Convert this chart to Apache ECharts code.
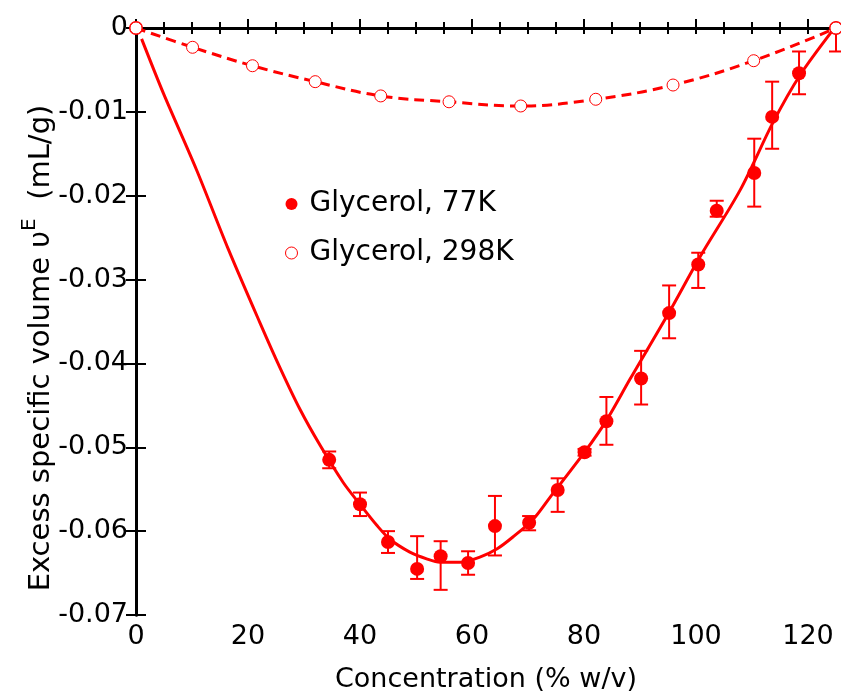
<!DOCTYPE html>
<html>
<head>
<meta charset="utf-8">
<script src="https://cdn.jsdelivr.net/npm/echarts@6/dist/echarts.min.js"></script>
<style>
html,body{margin:0;padding:0;background:#fff;}
#main{width:841px;height:698px;}
</style>
</head>
<body>
<div id="main"></div>
<script>
// 77K measurements (filled circles) with error bar ends
var x77 = [0, 34.5, 40, 45, 50.2, 54.4, 59.3, 64.1, 70.2, 75.3, 80.1, 84, 90.2, 95.2, 100.4, 103.7, 110.4, 113.6, 118.4, 125];
var y77 = [0, -0.0515, -0.0568, -0.0613, -0.0645, -0.0630, -0.0638, -0.0594, -0.0590, -0.0551, -0.0506, -0.0469, -0.0418, -0.0340, -0.0282, -0.0218, -0.0173, -0.0106, -0.0054, 0];
var errTop = [null, -0.0505, -0.0554, -0.0600, -0.0606, -0.0612, -0.0624, -0.0558, -0.0582, -0.0537, -0.0502, -0.0440, -0.0385, -0.0307, -0.0268, -0.0206, -0.0132, -0.0064, -0.0028, 0];
var errBottom = [null, -0.0525, -0.0582, -0.0626, -0.0657, -0.0670, -0.0652, -0.0629, -0.0599, -0.0577, -0.0510, -0.0497, -0.0449, -0.0370, -0.0310, -0.0225, -0.0213, -0.0144, -0.0079, -0.0028];

// fitted curve for 77K (solid line)
var fitX = [1.0, 4.9, 10.8, 16.5, 22.1, 25.7, 29.3, 32.9, 37, 40, 43, 45.4, 48.9, 51.9, 54.3, 57.9, 61.4, 64.5, 67.3, 70.9, 73.9, 80.2, 84.1, 88.2, 95.2, 100.7, 107.9, 113.8, 118.6, 124.5];
var fitY = [-0.0013, -0.0078, -0.0169, -0.0264, -0.0351, -0.0405, -0.0455, -0.0498, -0.0542, -0.0568, -0.0593, -0.0610, -0.0625, -0.0633, -0.0637, -0.0637, -0.0631, -0.0621, -0.0607, -0.0586, -0.0560, -0.0505, -0.0467, -0.0419, -0.0339, -0.0273, -0.0193, -0.0112, -0.0056, -0.0002];

// 298K measurements (open circles, dashed line)
var x298 = [0, 10.1, 20.8, 32.0, 43.7, 55.9, 68.7, 82.1, 95.9, 110.3, 125];
var y298 = [0, -0.0023, -0.0045, -0.0064, -0.0081, -0.0088, -0.0093, -0.0085, -0.0068, -0.0039, 0];

var seriesNames = ['Glycerol, 77K', 'Glycerol, 298K'];

var FONT = 'DejaVu Sans';
var RED = '#ff0000';

function pairs(xs, ys) {
	var out = [];
	for (var i = 0; i < xs.length; i++) out.push([xs[i], ys[i]]);
	return out;
}

var errData = [];
for (var i = 0; i < x77.length; i++) {
	if (errTop[i] !== null) errData.push([x77[i], errBottom[i], errTop[i]]);
}

var tickStyle = {show: true, inside: true, lineStyle: {color: '#000', width: 2}};

var option = {
	animation: false,
	grid: {left: 136, right: 5, top: 28, bottom: 82, containLabel: false},
	legend: {
		orient: 'vertical',
		left: 280,
		top: 185,
		itemWidth: 26,
		itemHeight: 12,
		itemGap: 21,
		textStyle: {fontFamily: FONT, fontSize: 28, color: '#000', lineHeight: 24},
		data: [
			{name: seriesNames[0], icon: 'circle', itemStyle: {color: RED, borderWidth: 0, opacity: 1}},
			{name: seriesNames[1], icon: 'circle', itemStyle: {color: '#fff', borderColor: RED, borderWidth: 1}}
		]
	},
	xAxis: [
		{
			type: 'value', min: 0, max: 125, interval: 20, position: 'bottom',
			name: 'Concentration (% w/v)', nameLocation: 'middle', nameGap: 51,
			nameTextStyle: {fontFamily: FONT, fontSize: 27, color: '#000'},
			axisLine: {show: true, lineStyle: {color: '#000', width: 3}},
			axisTick: Object.assign({length: 9}, tickStyle),
			axisLabel: {fontFamily: FONT, fontSize: 27, color: '#000', margin: 8, showMaxLabel: false},
			splitLine: {show: false}
		},
		{
			type: 'value', min: 0, max: 125, interval: 5, position: 'bottom',
			axisLine: {show: false},
			axisTick: Object.assign({length: 6}, tickStyle),
			axisLabel: {show: false},
			splitLine: {show: false}
		},
		{
			type: 'value', min: 0, max: 125, interval: 5, position: 'top',
			axisLine: {show: true, lineStyle: {color: '#000', width: 3}},
			axisTick: Object.assign({length: 6}, tickStyle),
			axisLabel: {show: false},
			splitLine: {show: false}
		}
	],
	yAxis: [
		{
			type: 'value', min: -0.07, max: 0, interval: 0.01, position: 'left',
			axisLine: {show: true, lineStyle: {color: '#000', width: 3}},
			axisTick: Object.assign({length: 10}, tickStyle),
			axisLabel: {
				fontFamily: FONT, fontSize: 27, color: '#000', margin: 8,
				formatter: function (v) { return Math.abs(v) < 1e-9 ? '0' : v.toFixed(2); }
			},
			splitLine: {show: false}
		},
		{
			type: 'value', min: -0.07, max: 0, interval: 0.01, position: 'right',
			axisLine: {show: true, lineStyle: {color: '#000', width: 3}},
			axisTick: Object.assign({length: 10}, tickStyle),
			axisLabel: {show: false},
			splitLine: {show: false}
		}
	],
	graphic: [{
		type: 'text',
		x: 38,
		y: 348,
		rotation: Math.PI / 2,
		style: {
			text: '{n|Excess specific volume }{n|\u03c5}{s|E}{n|  (mL/g)}',
			align: 'center',
			verticalAlign: 'middle',
			rich: {
				n: {fontFamily: FONT, fontSize: 29, fill: '#000', lineHeight: 36, verticalAlign: 'bottom'},
				s: {fontFamily: FONT, fontSize: 20, fill: '#000', lineHeight: 36, verticalAlign: 'top'}
			}
		}
	}],
	series: [
		{
			name: 'fit',
			type: 'line',
			data: pairs(fitX, fitY),
			smooth: 0.3,
			showSymbol: false,
			silent: true,
			lineStyle: {color: RED, width: 3},
			z: 3
		},
		{
			name: 'err',
			type: 'custom',
			data: errData,
			renderItem: function (params, api) {
				var x = api.value(0);
				var lo = api.coord([x, api.value(1)]);
				var hi = api.coord([x, api.value(2)]);
				var w = 7;
				var st = {stroke: RED, lineWidth: 2};
				var kids = [
					{type: 'line', shape: {x1: lo[0], y1: lo[1], x2: hi[0], y2: hi[1]}, style: st},
					{type: 'line', shape: {x1: lo[0] - w, y1: lo[1], x2: lo[0] + w, y2: lo[1]}, style: st}
				];
				if (api.value(2) < 0) {
					kids.push({type: 'line', shape: {x1: hi[0] - w, y1: hi[1], x2: hi[0] + w, y2: hi[1]}, style: st});
				}
				return {type: 'group', children: kids};
			},
			z: 4
		},
		{
			name: seriesNames[0],
			type: 'scatter',
			data: pairs(x77, y77),
			symbol: 'circle',
			symbolSize: 14,
			itemStyle: {color: RED, opacity: 1},
			z: 5
		},
		{
			name: seriesNames[1],
			type: 'line',
			data: pairs(x298, y298),
			smooth: 0.4,
			symbol: 'circle',
			symbolSize: 12,
			showAllSymbol: true,
			lineStyle: {color: RED, width: 3, type: [10, 6]},
			itemStyle: {color: '#fff', borderColor: RED, borderWidth: 1},
			z: 5
		}
	]
};

var chart = echarts.init(document.getElementById('main'));
chart.setOption(option);
</script>
</body>
</html>
